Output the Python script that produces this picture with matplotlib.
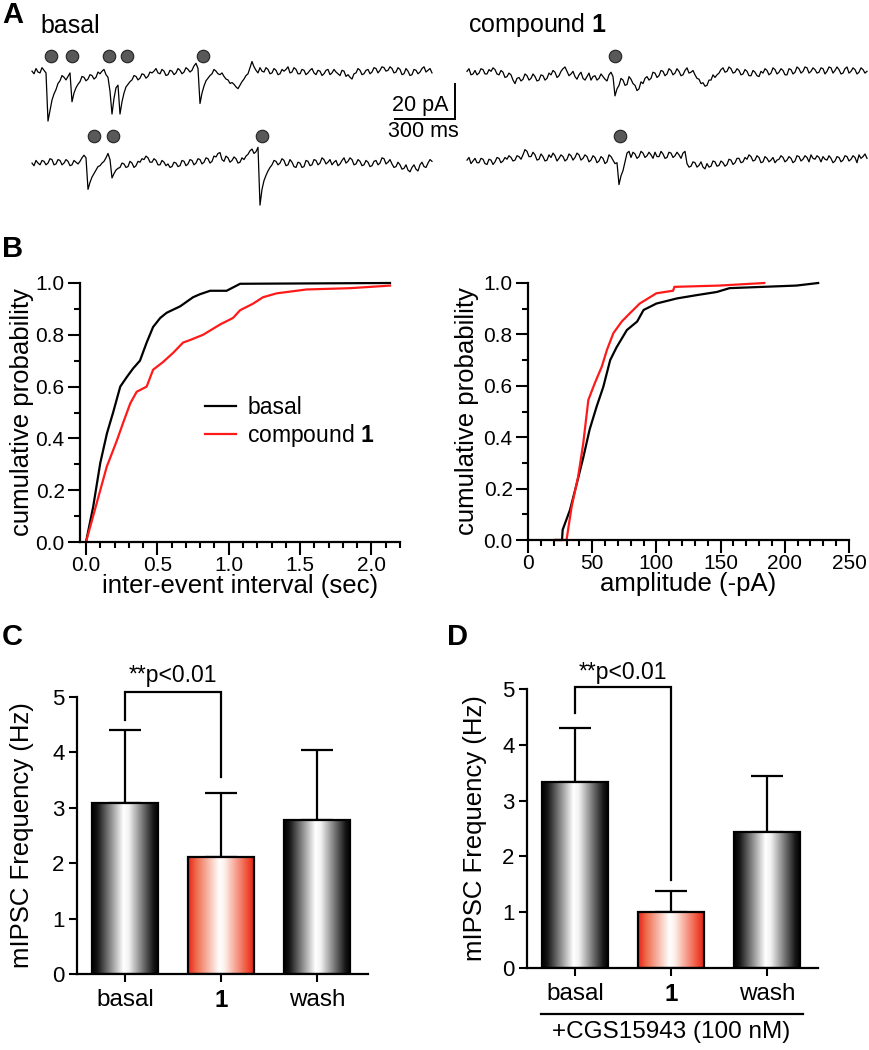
import numpy as np
import matplotlib
matplotlib.use('Agg')
import matplotlib.pyplot as plt
from matplotlib.colors import LinearSegmentedColormap
from matplotlib.ticker import MultipleLocator, FormatStrFormatter

plt.rcParams['font.family'] = ['Liberation Sans', 'DejaVu Sans']
plt.rcParams['mathtext.fontset'] = 'custom'
plt.rcParams['mathtext.rm'] = 'Liberation Sans'
plt.rcParams['mathtext.bf'] = 'Liberation Sans:bold'

# ---------------- data ----------------
# panel A: mIPSC traces (pA), one sample every 10 ms, 2 s per sweep
dt_ms = 10
basal_sweep1 = [
    0.5, -1, 2, 0, -0.5, 2.5, 1, -0.5, -28, -22, -16, -12.5, -10, -6.5, -5, -2, -3, -4.5, -2.5, -0.5,
    -17, -12, -9, -7, -5.5, -2.5, -3, -5, -4, -1.5, -2, -4, -3, 0, -1, 0.5, 1.5, -1.5, -3, -11,
    -24, -15, -9, -7.5, -24, -17, -12, -8.5, -7, -5.5, -4.5, -2, -2.5, -4.5, -3.5, -1, -1.5, -3.5, -2.5, 0,
    -0.5, 0.5, 2, -0.5, -1, 1.5, 0.5, -2, -1.5, 1, 0.5, -1.5, -0.5, 2, 1, -1, 0, 2.5, 1.5, 0,
    1, 3.5, 5, 2, -18, -12, -8, -5, -3.5, -2, -1, 1.5, 0.5, -1, -1.5, -0.5, -2.5, -4, -4.5, -6.5,
    -6, -7, -8.5, -9.5, -7.5, -5.5, -4, -2, -1, 2.5, 6, 3, 1, -0.5, 2.5, 0.5, 0, 2.5, 1.5, -1,
    -0.5, 2, 1, -1.5, -1, 1.5, 0.5, 1.5, 3, -0.5, 0, 2.5, 1.5, -1, -1, 1.5, 1, -1.5, -0.5, 1,
    2, -0.5, -1.5, 1, 0.5, -2, -1, 1, 1.5, -1.5, -0.5, 1.5, 0, -1, -2, 1, 0.5, -2.5, -1.5, -3,
    -4, -1, -0.5, 2, 1, -1.5, -1, 1, 1.5, -1, 0, 2.5, 2, -0.5, 1, 3, 2.5, 0.5, 1, 3,
    2, -0.5, 0, 2.5, 1.5, -1.5, -1, 2, 0.5, -2, -1.5, 1.5, 1, -1, 0, 2, 3, 0, 1, 2,
    -0.5]
basal_sweep2 = [
    0, -1.5, 1.5, 0, -1, 1.5, 1, -1, 0, 2.5, 2, -1, -0.5, 2, 1.5, -1, 0, 2, 1, -1.5,
    -1, 1.5, 0.5, -0.5, 1, 3, 4.5, 3, -15, -11, -8, -6, -4, -2, -1.5, 0, 1, 3, 5.5, 2,
    -8.5, -6, -4, -3, -2.5, 0, -0.5, -2.5, -2, 1, 0, -2.5, -1.5, 1, 0.5, 2.5, 2, 4, 3, 0.5,
    0.5, 2.5, 1.5, -1, -1, 1.5, 0.5, -1.5, -0.5, -2.5, -2, 0.5, 0, -2, -1.5, 1.5, 1, -1.5, -0.5, 2,
    1.5, -1, 0, 2.5, 2, -0.5, 0.5, 3, 2.5, 0, 1, 4, 3.5, 5.5, 6, 2, 1, 4, 3, 0.5,
    1.5, 3.5, 2.5, 0, 0.5, 3, 2, 4, 5, 7, 8, 5.5, 6.5, 9, -24, -15, -10, -7, -4.5, -2.5,
    -1, 1.5, 1, -1, 0, 2.5, 1.5, -1.5, -1, 2, 0.5, -2, -2.5, 0.5, 0, -2.5, -2, 1.5, 1, -1.5,
    -1, 2, 1.5, -1, 0, 3, 2, -0.5, 0.5, 2, -1, 0.5, 1.5, -1.5, -0.5, 1.5, 3, 0, 1, 3,
    2, -1, -0.5, 2, 1, -1.5, -1, 1.5, 0.5, -2, -1.5, 1, 1.5, -1, 0, 3, 2.5, -0.5, 0.5, 2,
    -0.5, -2.5, -2, 0.5, -1, -3.5, -3, -1, -4, -5, -2.5, -1, -3.5, -4.5, -1, 0.5, -2, -2.5, 0, 2,
    1]
cmpd_sweep1 = [
    1, 2.5, -1, -0.5, 1.5, -1, 0, 2.5, 2, -0.5, -0.5, 2, 1, 3, 2, -0.5, -1, 1.5, 0.5, -2.5,
    -2, 0, -1, -4, -6, -3, -2.5, -4.5, -3.5, -0.5, -1.5, -4, -3, -0.5, -2, -4.5, -4, -1, -1.5, -4,
    -3, 0, -1, 1.5, 0.5, -2.5, -1.5, 1, 2.5, 3.5, 1, -1.5, -0.5, 1, -2, -3.5, -1, 0.5, -3, -4,
    -2, 0, -4, -2, -1.5, -4, -3, -0.5, -2, -3.5, -4.5, -1, 0.5, -2, -13, -9, -7, -3, -4, -7,
    -6.5, -2, -3.5, -6, -7, -10, -9, -5, -6, -3, -2, -4, -3, 0.5, 0, -2.5, -1.5, 1.5, 1, -1.5,
    -0.5, 2.5, 1.5, -1, 0, 2.5, 1, -1.5, -1, 1.5, 3, 0, 0.5, 1.5, -1, -3, -3.5, -6, -5.5, -7.5,
    -7, -4, -4, -1, -2.5, -1, 0, 2, 3, 0.5, 1, 3.5, 2.5, 0, 0.5, 2.5, 1.5, -1, -0.5, 2,
    1, -1.5, -1.5, 1.5, 0.5, -1.5, -2, 1, 0, 2.5, 1.5, -1, 0, 3, 2, -0.5, 0.5, 2.5, 1.5, -1,
    -1, 2.5, 2, -0.5, 0.5, 3.5, 2.5, 0, 1, 3.5, 3, 0, 1, 3, 2, 0, 0.5, 3, 2.5, -0.5,
    1, 3.5, 3, 0, 1.5, 3.5, 2, -0.5, 0, 2.5, 3.5, 0, 1, 3, 2, -0.5, 0.5, 3, 2, 0,
    1]
cmpd_sweep2 = [
    0, 1.5, -2, -0.5, 1, -1.5, -1.5, 1, 0.5, -2, -2.5, 0.5, 0, -2.5, -1, 1.5, 1, -1.5, -0.5, 1.5,
    0.5, 2.5, 1.5, -0.5, 0, 2.5, 2, 0.5, 3, 6, 5, 2, 2, 4.5, 3, 0, 0.5, 3.5, 2, -0.5,
    0, 3, 1.5, 4, 2.5, -0.5, 1, 3, 2, -0.5, 0.5, 3.5, 2.5, 0, 1.5, 4, 3, 0, 1, 3,
    2, -1, 0, 2.5, 1.5, -1.5, -0.5, 2, 1, -2, -1, 3, 2, 0, -2, -1.5, -14, -9, -6, -1,
    4, 5, 1.5, 4.5, 3.5, 1, 2, 5, 4, 1.5, 2.5, 4.5, 3, 1, 4.5, 2, 2, 5, 3.5, 1,
    1.5, 4.5, 4, 1.5, 2.5, 4.5, 3, 1, 4, 5, -2, -4, -3.5, -1, -1.5, -4, -3, -1, -4, -5,
    -2, -4, -3.5, -0.5, -1, -3.5, -3, -0.5, -1.5, -3.5, -2.5, 0.5, 0, -2.5, -1.5, 1, 1, -1.5, -1, 1.5,
    0.5, 3, 2, -0.5, 0, 2.5, 1.5, -1.5, -1, 2, 1, -1, 0, 1.5, -1.5, 0, 0.5, 2.5, 1.5, -1,
    0, 2, 1, -1.5, -0.5, 2.5, 2, -0.5, 0.5, 2.5, 1.5, -1, 3, 1, 0.5, 2.5, 1.5, -1, 2, 0.5,
    0, 2.5, 1, -1.5, -0.5, 2, 1.5, -1, 0, 2.5, 2, -0.5, 0.5, 2.5, 1.5, -1.5, 3, 1, 2, 3.5,
    1]
# detected events (ms from sweep start)
basal_events1 = [95, 201, 385, 473, 857]
basal_events2 = [310, 405, 1150]
cmpd_events1 = [740]
cmpd_events2 = [765]

# panel B: cumulative distributions
iei_basal_x = [0, 0.05, 0.10, 0.147, 0.19, 0.24, 0.286, 0.33, 0.378, 0.425, 0.47, 0.52, 0.565, 0.66,
               0.75, 0.80, 0.87, 0.985, 1.08, 2.13]
iei_basal_y = [0, 0.135, 0.305, 0.42, 0.50, 0.60, 0.637, 0.67, 0.70, 0.77, 0.83, 0.865, 0.885, 0.91,
               0.945, 0.957, 0.97, 0.97, 0.997, 1.0]
iei_cmpd_x = [0, 0.075, 0.145, 0.215, 0.26, 0.31, 0.355, 0.425, 0.47, 0.54, 0.61, 0.68, 0.73, 0.82,
              0.94, 1.03, 1.08, 1.17, 1.24, 1.335, 1.545, 1.85, 2.13]
iei_cmpd_y = [0, 0.15, 0.29, 0.39, 0.46, 0.535, 0.58, 0.60, 0.665, 0.695, 0.73, 0.77, 0.78, 0.80,
              0.84, 0.865, 0.895, 0.92, 0.945, 0.96, 0.975, 0.98, 0.99]
amp_basal_x = [21, 26.5, 27, 32.7, 38, 43, 48, 53.5, 58.6, 64, 69, 77, 85, 90, 100, 116, 131.6, 147,
               157, 183, 209, 226]
amp_basal_y = [0, 0, 0.04, 0.117, 0.22, 0.32, 0.43, 0.52, 0.595, 0.70, 0.75, 0.817, 0.85, 0.895, 0.92,
               0.94, 0.953, 0.965, 0.98, 0.985, 0.99, 1.0]
amp_cmpd_x = [21, 30, 34, 39, 43, 47, 52, 57.5, 61.5, 66.5, 73, 79.5, 87, 100, 113, 114, 149, 184]
amp_cmpd_y = [0, 0, 0.13, 0.245, 0.375, 0.545, 0.61, 0.675, 0.74, 0.805, 0.85, 0.883, 0.92, 0.96,
              0.97, 0.985, 0.99, 1.0]

# panels C and D: mIPSC frequency (Hz), mean and SEM
groups = ['basal', '1', 'wash']
freq_c = [3.09, 2.12, 2.78]
sem_c = [1.31, 1.14, 1.26]
freq_d = [3.33, 1.00, 2.44]
sem_d = [0.97, 0.38, 1.00]

# ---------------- figure ----------------
W, H = 870, 1050
fig = plt.figure(figsize=(W / 100, H / 100), dpi=100)


def rect(x0, y0, x1, y1):
    # pixel box (top-left origin) -> figure fraction
    return [x0 / W, 1 - y1 / H, (x1 - x0) / W, (y1 - y0) / H]


# ---- A ----
axA = fig.add_axes(rect(30, 40, 870, 210))
axA.set_xlim(-10, 4190)
axA.set_ylim(-78.8, 18.3)
axA.axis('off')
right_shift = 2175
row2_basal, row2_cmpd, row1_cmpd = -52, -50.3, -0.6
dot_hi, dot_lo = 9.1, -36.5
t = np.arange(len(basal_sweep1)) * dt_ms
lw_tr = 0.9
axA.plot(t, basal_sweep1, color='black', lw=lw_tr)
axA.plot(t, np.array(basal_sweep2) + row2_basal, color='black', lw=lw_tr)
axA.plot(t + right_shift, np.array(cmpd_sweep1) + row1_cmpd, color='black', lw=lw_tr)
axA.plot(t + right_shift, np.array(cmpd_sweep2) + row2_cmpd, color='black', lw=lw_tr)
dot_style = dict(ls='none', marker='o', ms=9, mfc='#595959', mec='#222222', mew=0.8)
axA.plot(basal_events1, [dot_hi] * len(basal_events1), **dot_style)
axA.plot(basal_events2, [dot_lo] * len(basal_events2), **dot_style)
axA.plot(np.array(cmpd_events1) + right_shift, [dot_hi] * len(cmpd_events1), **dot_style)
axA.plot(np.array(cmpd_events2) + right_shift, [dot_lo] * len(cmpd_events2), **dot_style)
# scale bar 20 pA / 300 ms
sb_x, sb_y = 2115, -26.8
axA.plot([sb_x - 300, sb_x, sb_x], [sb_y, sb_y, sb_y + 20], color='black', lw=1.4,
         solid_joinstyle='miter')
axA.text(sb_x - 175, sb_y + 1.5, '20 pA', fontsize=15.5, ha='center', va='bottom')
axA.text(sb_x - 160, sb_y - 1.0, '300 ms', fontsize=15.5, ha='center', va='top')

fig.text(2 / W, 1 - 23 / H, 'A', fontsize=21, fontweight='bold', va='baseline')
fig.text(40 / W, 1 - 33 / H, 'basal', fontsize=18, va='baseline')
fig.text(468 / W, 1 - 32 / H, r'compound $\mathbf{1}$', fontsize=18, va='baseline')

# ---- B ----
tick_kw = dict(width=1.5, color='black')


def style_axes(ax):
    for s in ['top', 'right']:
        ax.spines[s].set_visible(False)
    for s in ['left', 'bottom']:
        ax.spines[s].set_linewidth(1.6)


axB1 = fig.add_axes(rect(80, 283, 400, 542))
axB1.plot(iei_basal_x, iei_basal_y, color='black', lw=1.6, label='basal', clip_on=False)
axB1.plot(iei_cmpd_x, iei_cmpd_y, color='#ff1a1a', lw=1.6, label=r'compound $\mathbf{1}$', clip_on=False)
axB1.set_xlim(-0.042, 2.2)
axB1.set_ylim(0, 1)
axB1.xaxis.set_major_locator(MultipleLocator(0.5))
axB1.xaxis.set_minor_locator(MultipleLocator(0.1))
axB1.xaxis.set_major_formatter(FormatStrFormatter('%.1f'))
axB1.set_xlabel('inter-event interval (sec)', fontsize=18.5)
leg = axB1.legend(frameon=False, loc='upper left', bbox_to_anchor=(0.39, 0.565), fontsize=16.5,
                  handlelength=1.35, handletextpad=0.5, labelspacing=0.15, borderpad=0, borderaxespad=0)

axB2 = fig.add_axes(rect(528, 283, 849, 540))
axB2.plot(amp_basal_x, amp_basal_y, color='black', lw=1.6, clip_on=False)
axB2.plot(amp_cmpd_x, amp_cmpd_y, color='#ff1a1a', lw=1.6, clip_on=False)
axB2.set_xlim(0, 250)
axB2.set_ylim(0, 1)
axB2.xaxis.set_major_locator(MultipleLocator(50))
axB2.xaxis.set_minor_locator(MultipleLocator(10))
axB2.set_xlabel('amplitude (-pA)', fontsize=18.5)

for ax, lx in [(axB1, -0.18), (axB2, -0.19)]:
    style_axes(ax)
    ax.yaxis.set_major_locator(MultipleLocator(0.2))
    ax.yaxis.set_minor_locator(MultipleLocator(0.1))
    ax.yaxis.set_major_formatter(FormatStrFormatter('%.1f'))
    ax.tick_params(which='major', length=9, labelsize=15, **tick_kw)
    ax.tick_params(which='minor', length=4, **tick_kw)
    ax.tick_params(axis='x', which='major', pad=1)
    ax.tick_params(axis='y', which='major', pad=2)
    ax.set_ylabel('cumulative probability', fontsize=18.5)
    ax.yaxis.set_label_coords(lx, 0.5)
    ax.xaxis.set_label_coords(0.5, -0.17)
    ax.xaxis.label.set_va('center')
    ax.yaxis.label.set_va('center')

fig.text(2 / W, 1 - 257 / H, 'B', fontsize=21, fontweight='bold', va='baseline')

# ---- C and D ----
gray_cmap = LinearSegmentedColormap.from_list(
    'cyl_gray', [(0, '#000000'), (0.08, '#151515'), (0.47, '#ffffff'), (0.55, '#f2f2f2'),
                 (0.92, '#151515'), (1, '#000000')])
red_cmap = LinearSegmentedColormap.from_list(
    'cyl_red', [(0, '#e8231c'), (0.12, '#ef6a4a'), (0.47, '#ffffff'), (0.55, '#fdf0ea'),
                (0.9, '#ee4a30'), (1, '#e31a1a')])
bar_w = 0.69
pos = np.arange(len(groups))


def bar_panel(ax, means, sems, bracket, text_y):
    for x, m, cm in zip(pos, means, [gray_cmap, red_cmap, gray_cmap]):
        grad = np.linspace(0, 1, 256).reshape(1, -1)
        ax.imshow(grad, cmap=cm, extent=(x - bar_w / 2, x + bar_w / 2, 0, m), aspect='auto',
                  interpolation='bilinear', zorder=1)
    ax.bar(pos, means, width=bar_w, facecolor='none', edgecolor='black', linewidth=1.6, zorder=2)
    ax.errorbar(pos, means, yerr=[np.zeros(len(means)), sems], fmt='none', ecolor='black',
                elinewidth=1.6, capsize=11.5, capthick=1.6, zorder=0)
    y0, ytop, y1 = bracket
    ax.plot([0, 0, 1, 1], [y0, ytop, ytop, y1], color='black', lw=1.6, clip_on=False,
            solid_joinstyle='miter')
    ax.text(0.5, text_y, '**p<0.01', fontsize=16.5, ha='center', va='center')
    ax.set_xlim(-0.5, 2.53)
    ax.set_ylim(0, 5)
    style_axes(ax)
    ax.set_xticks(pos)
    ax.set_xticklabels(groups, fontsize=17.5)
    ax.get_xticklabels()[1].set_fontweight('bold')
    ax.set_yticks(range(6))
    ax.tick_params(axis='y', length=6, labelsize=16, pad=3, **tick_kw)
    ax.tick_params(axis='x', length=5.5, pad=5, **tick_kw)
    ax.set_ylabel('mIPSC Frequency (Hz)', fontsize=18.5)
    ax.yaxis.label.set_va('center')


axC = fig.add_axes(rect(77, 697, 368, 974))
bar_panel(axC, freq_c, sem_c, (4.58, 5.09, 3.56), 5.38)
axC.yaxis.set_label_coords(-0.19, 0.5)

axD = fig.add_axes(rect(527, 689, 818, 968))
bar_panel(axD, freq_d, sem_d, (4.57, 5.04, 1.58), 5.3)
axD.yaxis.set_label_coords(-0.18, 0.5)
axD.plot([-0.35, 2.37], [-0.82, -0.82], color='black', lw=1.6, clip_on=False)
axD.text(1.0, -1.15, '+CGS15943 (100 nM)', fontsize=17.5, ha='center', va='center')

fig.text(2 / W, 1 - 645 / H, 'C', fontsize=21, fontweight='bold', va='baseline')
fig.text(447 / W, 1 - 645 / H, 'D', fontsize=21, fontweight='bold', va='baseline')

fig.savefig('out.png', dpi=100, facecolor='white')
